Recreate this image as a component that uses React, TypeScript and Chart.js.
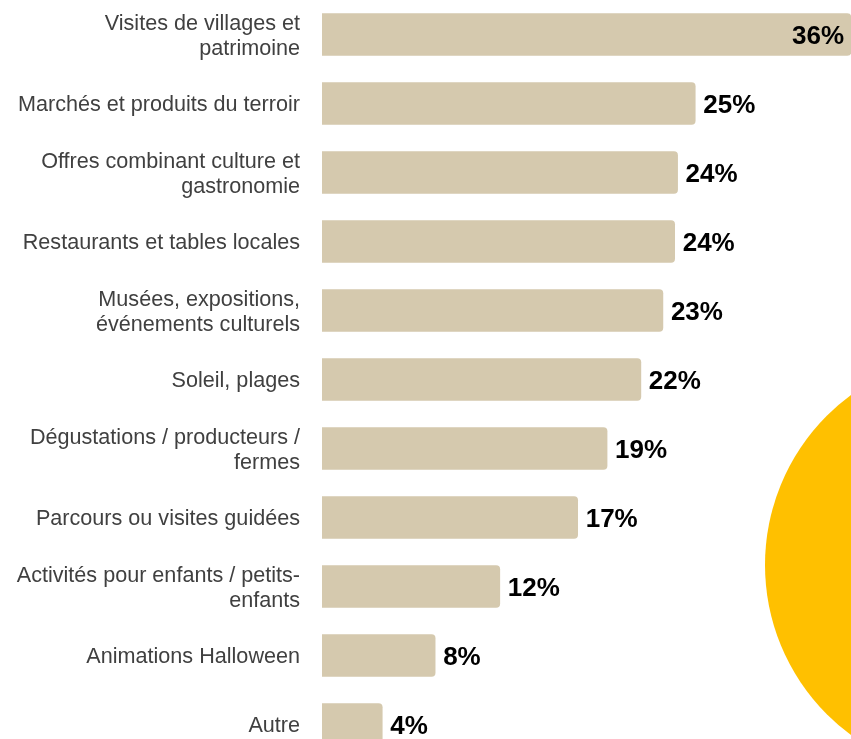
import React, { useEffect, useRef } from "react";
import { Chart, registerables } from "chart.js";

Chart.register(...registerables);

const categories: (string | string[])[] = [
  ["Visites de villages et", "patrimoine"],
  "Marchés et produits du terroir",
  ["Offres combinant culture et", "gastronomie"],
  "Restaurants et tables locales",
  ["Musées, expositions,", "événements culturels"],
  "Soleil, plages",
  ["Dégustations / producteurs /", "fermes"],
  "Parcours ou visites guidées",
  ["Activités pour enfants / petits-", "enfants"],
  "Animations Halloween",
  "Autre",
];

const values: number[] = [36, 25.4, 24.2, 24.0, 23.2, 21.7, 19.4, 17.4, 12.1, 7.7, 4.1];

const FONT = "'Liberation Sans', Arial, Helvetica, sans-serif";

const valueLabelPlugin = {
  id: "valueLabels",
  afterDatasetsDraw(chart: any) {
    const { ctx, chartArea } = chart;
    const meta = chart.getDatasetMeta(0);
    ctx.save();
    ctx.font = `bold 26px ${FONT}`;
    ctx.fillStyle = "#000000";
    ctx.textBaseline = "middle";
    meta.data.forEach((bar: any, i: number) => {
      const text = Math.round(values[i]) + "%";
      const w = ctx.measureText(text).width;
      if (bar.x + 8 + w > chartArea.right) {
        ctx.textAlign = "right";
        ctx.fillText(text, bar.x - 7, bar.y + 2);
      } else {
        ctx.textAlign = "left";
        ctx.fillText(text, bar.x + 8, bar.y + 2);
      }
    });
    ctx.restore();
  },
};

export default function App() {
  const ref = useRef<HTMLCanvasElement | null>(null);

  useEffect(() => {
    if (!ref.current) return;
    const chart = new Chart(ref.current, {
      type: "bar",
      data: {
        labels: categories,
        datasets: [
          {
            data: values,
            backgroundColor: "#D5C9AE",
            borderRadius: 4,
            barThickness: 42,
          },
        ],
      },
      options: {
        indexAxis: "y",
        responsive: false,
        animation: false,
        devicePixelRatio: 1,
        layout: { padding: 0 },
        plugins: {
          legend: { display: false },
          tooltip: { enabled: false },
          title: { display: false },
        },
        scales: {
          x: {
            display: false,
            min: 0,
            max: 36,
          },
          y: {
            grid: { display: false, drawTicks: false },
            border: { display: false },
            ticks: {
              padding: 22,
              labelOffset: 2,
              color: "#404040",
              font: { family: FONT, size: 21.6, lineHeight: 1.16 },
            },
            afterFit: (scale: any) => {
              scale.width = 322;
              scale.paddingTop = 0;
              scale.paddingBottom = 0;
            },
          },
        },
      } as any,
      plugins: [valueLabelPlugin],
    });
    return () => chart.destroy();
  }, []);

  return (
    <div
      style={{
        position: "absolute",
        left: 0,
        top: 0,
        width: 851,
        height: 739,
        overflow: "hidden",
        background: "#ffffff",
      }}
    >
      <div
        style={{
          position: "absolute",
          left: 765,
          top: 354,
          width: 422,
          height: 422,
          borderRadius: "50%",
          background: "#FFC000",
        }}
      />
      <canvas
        ref={ref}
        width={851}
        height={759}
        style={{ position: "absolute", left: 0, top: 0, width: 851, height: 759 }}
      />
    </div>
  );
}
